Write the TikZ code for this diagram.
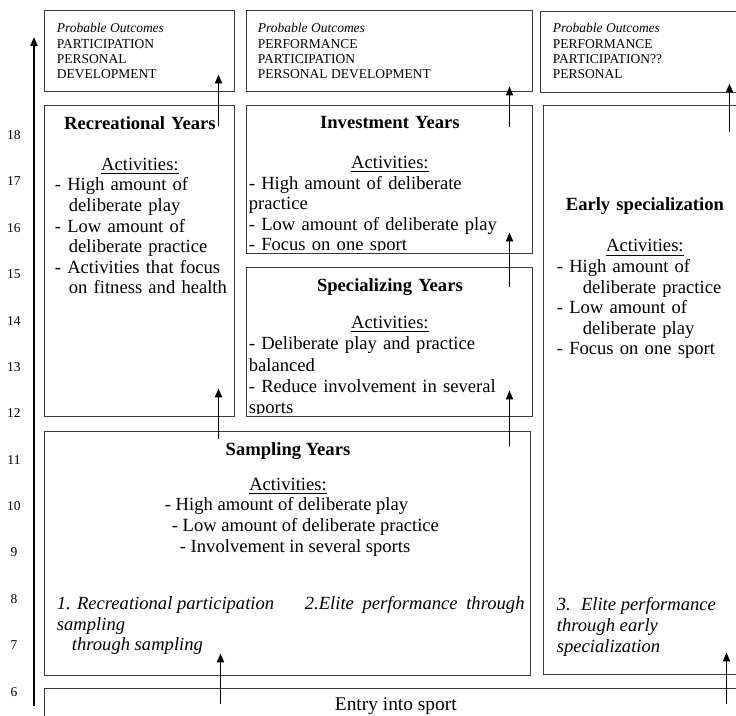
\documentclass[tikz,border=0pt]{standalone}
\usepackage{fontspec}
\setmainfont{Liberation Serif}
\usepackage{xcolor}
\definecolor{ltadline}{HTML}{3A3A3A}
\newcommand{\ltadfont}{\fontsize{9.3}{10.3}\selectfont}
\newcommand{\ltadsmall}{\fontsize{6.75}{7.6}\selectfont}
\usetikzlibrary{arrows.meta,positioning}
\tikzset{
  stagebox/.style={draw=ltadline,line width=0.5pt,inner sep=0pt},
  stagetext/.style={inner sep=0pt,align=left,font=\ltadfont},
  pathtext/.style={inner sep=0pt,align=left,font=\ltadfont\itshape},
  outtext/.style={inner sep=0pt,align=left,font=\ltadsmall},
  agelabel/.style={inner sep=0pt,font=\ltadsmall},
  stageflow/.style={-{Triangle[length=4.5pt,width=3.6pt]},line width=0.65pt},
}

\begin{document}
\begin{tikzpicture}[x=0.5pt,y=-0.5pt]
\useasboundingbox (0,0) rectangle (736,716);
% age axis
\coordinate (axisbot) at (34,706);
\coordinate (axistop) at (34,37);
\draw[stageflow] (axisbot) -- (axistop);
\foreach \age in {6,...,18}
  \node[agelabel] (age\age) at (14,{135+(18-\age)*46.4}) {\age};

% outcome boxes
\node[stagebox,minimum width=95pt,minimum height=40.5pt] (recout) at (140,51.5) {};
\node[stagebox,minimum width=143pt,minimum height=40.5pt] (invout) at (390,51.5) {};
\node[stagebox,minimum width=104.5pt,minimum height=40.5pt] (earlyout) at (645.5,52.5) {};
\node[outtext,below right=6pt and 6pt of recout.north west] (recouttext)
  {\textit{Probable Outcomes}\\[0.5pt]PARTICIPATION\\PERSONAL\\DEVELOPMENT};
\node[outtext,below right=6pt and 5.5pt of invout.north west] (invouttext)
  {\textit{Probable Outcomes}\\[0.5pt]PERFORMANCE\\PARTICIPATION\\PERSONAL DEVELOPMENT};
\node[outtext,below right=5.5pt and 6pt of earlyout.north west] (earlyouttext)
  {\textit{Probable Outcomes}\\[0.5pt]PERFORMANCE\\PARTICIPATION??\\PERSONAL};

% stage boxes
\node[stagebox,minimum width=95pt,minimum height=155.5pt] (rec) at (140,261.5) {};
\node[stagebox,minimum width=143pt,minimum height=74pt] (inv) at (390,180) {};
\node[stagebox,minimum width=143pt,minimum height=74.5pt] (spec) at (390,342.5) {};
\node[stagebox,minimum width=103pt,minimum height=284.5pt] (early) at (647,390.5) {};
\node[stagebox,minimum width=243pt,minimum height=122pt] (samp) at (288,554) {};
\node[stagebox,minimum width=357.5pt,minimum height=25.5pt] (entry) at (402.5,714.5) {};

\node[stagetext,text width=92pt,below right=5.2pt and 5pt of rec.north west] (rectext)
  {\makebox[85pt]{\textbf{Recreational Years}}\\[10.3pt]
   \makebox[85pt]{\underline{Activities:}}\\
   - High amount of\\\hspace*{7pt}deliberate play\\
   - Low amount of\\\hspace*{7pt}deliberate practice\\
   - Activities that focus\\\hspace*{7pt}on fitness and health};
\begin{scope}
  \clip (inv.north west) rectangle ([shift={(0,-4)}]inv.south east);
  \node[stagetext,text width=141pt,below right=5.2pt and 1pt of inv.north west] (invtext)
    {\makebox[\hsize]{\textbf{Investment Years}}\\[9.7pt]
     \makebox[\hsize]{\underline{Activities:}}\\
     - High amount of deliberate\\practice\\
     - Low amount of deliberate play\\
     - Focus on one sport};
\end{scope}
\begin{scope}
  \clip (spec.north west) rectangle ([shift={(0,-4)}]spec.south east);
  \node[stagetext,font=\fontsize{9.3}{10.7}\selectfont,text width=141pt,below right=5.2pt and 1pt of spec.north west] (spectext)
    {\makebox[\hsize]{\textbf{Specializing Years}}\\[7.9pt]
     \makebox[\hsize]{\underline{Activities:}}\\
     - Deliberate play and practice\\balanced\\
     - Reduce involvement in several\\sports};
\end{scope}
\node[stagetext,text width=88pt,below right=46pt and 6.5pt of early.north west] (earlytext)
  {\makebox[\hsize]{\textbf{Early specialization}}\\[10.3pt]
   \makebox[\hsize]{\underline{Activities:}}\\
   - High amount of\\\hspace*{13pt}deliberate practice\\
   - Low amount of\\\hspace*{13pt}deliberate play\\
   - Focus on one sport};
\node[stagetext,align=center,below=5.2pt of samp.north] (samphead)
  {\textbf{Sampling Years}\\[7.2pt]\underline{Activities:}};
\node[stagetext,below right=33pt and 60pt of samp.north west] (sampacts)
  {- High amount of deliberate play\\
   \hspace*{3.5pt}- Low amount of deliberate practice\\
   \hspace*{7.5pt}- Involvement in several sports};

% development paths
\node[pathtext,below right=82.5pt and 6pt of samp.north west] (recpath)
  {1. Recreational participation\\sampling\\\hspace*{7.5pt}through sampling};
\node[pathtext,below right=82.5pt and 130pt of samp.north west] (elitepath)
  {2.Elite\hspace{2pt} performance\hspace{2pt} through};
\node[pathtext,below right=246pt and 6.5pt of early.north west] (earlypath)
  {3.\hspace{2pt} Elite performance\\through early\\specialization};
\node[inner sep=0pt,font=\fontsize{9.7}{11}\selectfont,below right=4.5pt and 145pt of entry.north west] (entrytext)
  {Entry into sport};

% transitions
\draw[stageflow] ([shift={(176,16)}]entry.north west) -- ([shift={(176,-23)}]samp.south west);
\draw[stageflow] ([shift={(682,16)}]entry.north west) -- ([shift={(183,-23)}]early.south west);
\draw[stageflow] ([shift={(174,8)}]samp.north west) -- ([shift={(174,-29)}]rec.south west);
\draw[stageflow] ([shift={(174,21)}]rec.north west) -- ([shift={(174,-18)}]recout.south west);
\draw[stageflow] ([shift={(465,15)}]samp.north west) -- ([shift={(263,-27)}]spec.south west);
\draw[stageflow] ([shift={(263,20)}]spec.north west) -- ([shift={(263,-22)}]inv.south west);
\draw[stageflow] ([shift={(263,22)}]inv.north west) -- ([shift={(263,-6)}]invout.south west);
\draw[stageflow] ([shift={(186,27)}]early.north west) -- ([shift={(189,-10)}]earlyout.south west);
\end{tikzpicture}
\end{document}
